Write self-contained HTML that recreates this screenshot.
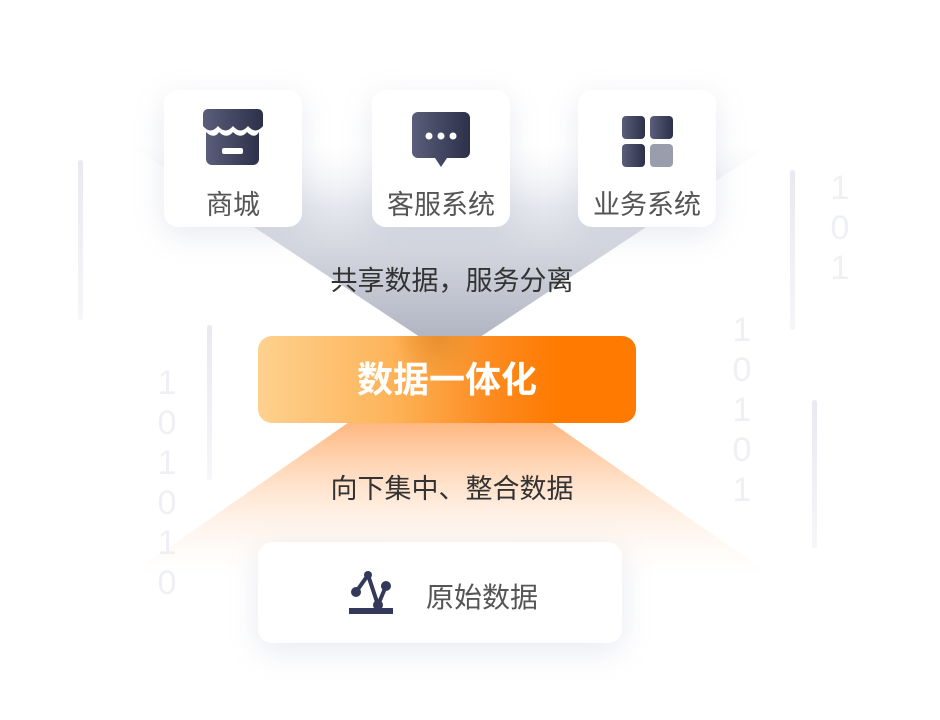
<!DOCTYPE html>
<html><head><meta charset="utf-8"><style>
body{margin:0;width:940px;height:720px;background:#fff;position:relative;overflow:hidden;font-family:"Liberation Sans","Noto Sans CJK SC",sans-serif}
.a{position:absolute}
.card{position:absolute;background:#fff;border-radius:14px;box-shadow:0 8px 30px rgba(150,160,190,.22)}
.lbl{position:absolute;left:0;right:0;text-align:center;font-size:27px;color:#555}
.d{position:absolute;font-size:34px;color:#eff0f4;line-height:40px;width:24px;text-align:center}
.vl{position:absolute;width:5px;border-radius:3px;background:linear-gradient(#e8eaf0,#f5f6f8)}
</style></head><body>
<svg class="a" style="left:0;top:0" width="940" height="720">
<defs>
<linearGradient id="g1" x1="0" y1="0" x2="0" y2="1"><stop offset="0" stop-color="#f4f5f8" stop-opacity="0"/><stop offset=".3" stop-color="#e6e8ee"/><stop offset="1" stop-color="#aeb2c0"/></linearGradient>
<linearGradient id="g2" x1="0" y1="0" x2="0" y2="1"><stop offset="0" stop-color="#ffb47a"/><stop offset="1" stop-color="#fff3e8" stop-opacity="0"/></linearGradient>
</defs>
<polygon points="130,145 770,145 468,345 432,345" fill="url(#g1)"/>
<polygon points="352,420 548,420 775,578 125,578" fill="url(#g2)"/>
</svg>
<div class="vl" style="left:78px;top:160px;height:160px"></div>
<div class="vl" style="left:207px;top:325px;height:155px"></div>
<div class="vl" style="left:790px;top:170px;height:160px"></div>
<div class="vl" style="left:812px;top:400px;height:148px"></div>
<div class="d" style="left:155px;top:363px">1<br>0<br>1<br>0<br>1<br>0</div>
<div class="d" style="left:730px;top:310px">1<br>0<br>1<br>0<br>1</div>
<div class="d" style="left:828px;top:168px">1<br>0<br>1</div>
<div class="card" style="left:164px;top:90px;width:138px;height:137px">
<svg class="a" style="left:38px;top:19px" width="62" height="58"><defs><linearGradient id="ic" x1="0" x2="1"><stop offset="0" stop-color="#5a5e7a"/><stop offset="1" stop-color="#2c3049"/></linearGradient></defs>
<path d="M6,0h50a5,5 0 0 1 5,5v12c-5,6 -10,6 -15,0c-5,6 -10,6 -15,0c-5,6 -10,6 -15,0c-5,6 -10,6 -15,0v-12a5,5 0 0 1 5,-5z" fill="url(#ic)"/>
<path d="M4,23c5,5 10,5 13,0c5,5 10,5 14,0c5,5 10,5 14,0c5,5 9,5 12,0v27a6,6 0 0 1 -6,6h-41a6,6 0 0 1 -6,-6z" fill="url(#ic)"/>
<rect x="20" y="39" width="21" height="6" rx="2" fill="#fff"/></svg>
<div class="lbl" style="top:93px">商城</div></div>
<div class="card" style="left:372px;top:90px;width:138px;height:137px">
<svg class="a" style="left:40px;top:22px" width="60" height="56"><path d="M6,0h46a6,6 0 0 1 6,6v34a6,6 0 0 1 -6,6h-17l-6,9l-6,-9h-17a6,6 0 0 1 -6,-6v-34a6,6 0 0 1 6,-6z" fill="url(#ic)"/><circle cx="17" cy="24" r="3.5" fill="#fff"/><circle cx="29" cy="24" r="3.5" fill="#fff"/><circle cx="41" cy="24" r="3.5" fill="#fff"/></svg>
<div class="lbl" style="top:93px">客服系统</div></div>
<div class="card" style="left:578px;top:90px;width:138px;height:137px">
<svg class="a" style="left:44px;top:26px" width="54" height="54"><rect x="0" y="0" width="23" height="23" rx="4" fill="url(#ic)"/><rect x="28" y="0" width="23" height="23" rx="4" fill="url(#ic)"/><rect x="0" y="28" width="23" height="23" rx="4" fill="url(#ic)"/><rect x="28" y="28" width="23" height="23" rx="4" fill="#9a9dab"/></svg>
<div class="lbl" style="top:93px">业务系统</div></div>
<div class="a" style="left:0;width:904px;top:259px;text-align:center;font-size:27px;color:#333">共享数据，服务分离</div>
<div class="a" style="left:258px;top:336px;width:378px;height:87px;border-radius:14px;background:radial-gradient(circle at 48% 0%,#e8902e 0,rgba(240,150,50,0) 45px),linear-gradient(90deg,#fed18f 0%,#fdb45a 35%,#fd8a1e 62%,#ff7a00 80%,#ff7a00 100%);color:#fff;font-weight:bold;font-size:36px;text-align:center;line-height:87px">数据一体化</div>
<div class="a" style="left:0;width:904px;top:467px;text-align:center;font-size:27px;color:#333">向下集中、整合数据</div>
<div class="card" style="left:258px;top:542px;width:364px;height:101px">
<svg class="a" style="left:90px;top:29px" width="48" height="46"><g stroke="#34385a" stroke-width="4" fill="none"><path d="M8,21L20,4L30,34L38,15"/></g><circle cx="8" cy="21" r="5" fill="#34385a"/><circle cx="20" cy="4" r="4" fill="#34385a"/><circle cx="30" cy="34" r="5" fill="#34385a"/><circle cx="38" cy="15" r="5" fill="#34385a"/><rect x="1" y="37" width="44" height="6" fill="#34385a"/></svg>
<div class="a" style="left:168px;top:34px;font-size:28px;color:#555">原始数据</div></div>
</body></html>
